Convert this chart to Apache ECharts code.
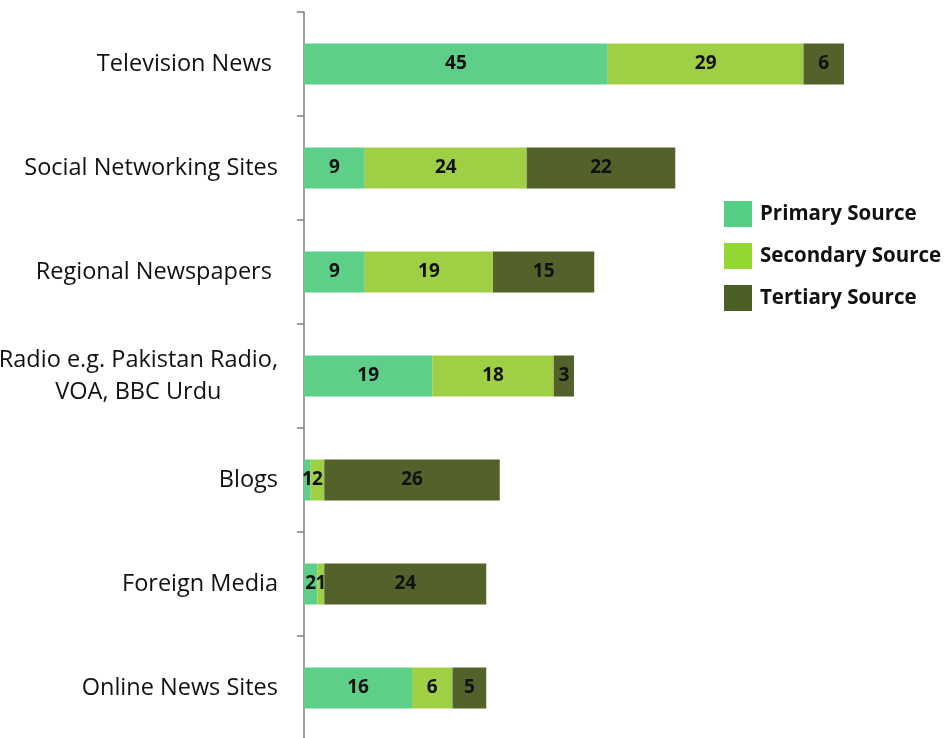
<!DOCTYPE html>
<html>
<head>
<meta charset="utf-8">
<script src="https://cdn.jsdelivr.net/npm/echarts@6/dist/echarts.min.js"></script>
<style>
  html, body { margin: 0; padding: 0; background: #ffffff; }
  #chart { width: 946px; height: 738px; }
</style>
</head>
<body>
<div id="chart"></div>
<script>
// News sources, listed top to bottom
const categories = [
  'Television News ',
  'Social Networking Sites',
  'Regional Newspapers ',
  'Radio e.g. Pakistan Radio,\nVOA, BBC Urdu',
  'Blogs',
  'Foreign Media',
  'Online News Sites'
];
const seriesNames = ['Primary Source', 'Secondary Source', 'Tertiary Source'];
const primary   = [45, 9, 9, 19, 1, 2, 16];
const secondary = [29, 24, 19, 18, 2, 1, 6];
const tertiary  = [6, 22, 15, 3, 26, 24, 5];

const barColors = ['#5dcf88', '#9ecf45', '#52622a'];
const legendColors = ['#55cf85', '#92d630', '#4c5f24'];
const FONT = 'Open Sans';

function makeSeries(name, data, i) {
  return {
    name: name,
    type: 'bar',
    stack: 'total',
    barWidth: 41,
    data: data,
    itemStyle: { color: barColors[i] },
    label: {
      show: true,
      position: 'inside',
      color: '#111',
      fontFamily: FONT,
      fontWeight: 'bold',
      fontSize: 19
    }
  };
}

const chart = echarts.init(document.getElementById('chart'));
chart.setOption({
  animation: false,
  backgroundColor: '#ffffff',
  grid: {
    left: 304, right: 102, top: 12, bottom: -2,
    containLabel: false,
    outerBoundsMode: 'none'
  },
  legend: {
    orient: 'vertical',
    left: 724,
    top: 201,
    padding: 0,
    itemWidth: 28,
    itemHeight: 26,
    itemGap: 16,
    icon: 'rect',
    textStyle: { fontFamily: FONT, fontWeight: 'bold', fontSize: 20.5, color: '#111', padding: [0, 0, 0, 3] },
    data: seriesNames.map((n, i) => ({ name: n, itemStyle: { color: legendColors[i] } }))
  },
  xAxis: {
    type: 'value',
    min: 0,
    max: 80,
    show: false
  },
  yAxis: {
    type: 'category',
    inverse: true,
    data: categories,
    axisLine: { show: true, lineStyle: { color: '#7f7f7f', width: 1.5 } },
    axisTick: { show: true, length: 7, lineStyle: { color: '#7f7f7f', width: 1.5 } },
    axisLabel: {
      margin: 26,
      fontFamily: FONT,
      fontSize: 23.5,
      color: '#111',
      formatter: function (v) {
        if (v.indexOf('\n') >= 0) {
          return v.split('\n').map(s => '{c|' + s + '}').join('\n');
        }
        return v;
      },
      rich: {
        c: { align: 'center', fontFamily: FONT, fontSize: 23.5, color: '#111', lineHeight: 32 }
      }
    }
  },
  series: [
    makeSeries(seriesNames[0], primary, 0),
    makeSeries(seriesNames[1], secondary, 1),
    makeSeries(seriesNames[2], tertiary, 2)
  ]
});
</script>
</body>
</html>
